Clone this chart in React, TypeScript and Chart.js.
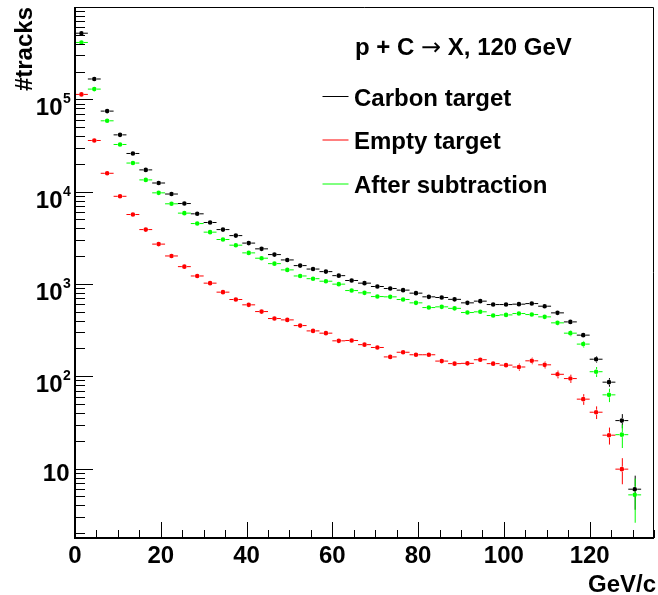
import React, { useEffect, useRef } from "react";
import { Chart, registerables } from "chart.js";

Chart.register(...registerables);

// ---- data ----
const binCenters = [
  1.5, 4.5, 7.5, 10.5, 13.5, 16.5, 19.5, 22.5, 25.5, 28.5,
  31.5, 34.5, 37.5, 40.5, 43.5, 46.5, 49.5, 52.5, 55.5, 58.5,
  61.5, 64.5, 67.5, 70.5, 73.5, 76.5, 79.5, 82.5, 85.5, 88.5,
  91.5, 94.5, 97.5, 100.5, 103.5, 106.5, 109.5, 112.5, 115.5, 118.5,
  121.5, 124.5, 127.5, 130.5,
];
const binHalfWidth = 1.5;

const carbonTarget = [
  520000, 166000, 74500, 41200, 25900, 17200, 12400, 9420, 7430, 5750,
  4630, 3880, 3340, 2770, 2400, 2080, 1820, 1580, 1450, 1360,
  1230, 1090, 1020, 938, 892, 857, 795, 725, 713, 681,
  624, 651, 598, 598, 604, 613, 574, 486, 388, 279,
  153, 86.3, 33.1, 5.98,
];
const emptyTarget = [
  113000, 35800, 15800, 8900, 5650, 3880, 2700, 2010, 1540, 1220,
  1020, 815, 678, 594, 502, 422, 408, 354, 310, 293,
  242, 244, 220, 205, 162, 182, 171, 171, 146, 137,
  138, 151, 137, 132, 126, 147, 133, 105, 94.4, 56.5,
  40.8, 23.0, 9.86, null,
];
const afterSubtraction = [
  413000, 129000, 58500, 32400, 20400, 13400, 9700, 7380, 5850, 4510,
  3640, 3030, 2630, 2170, 1900, 1660, 1420, 1220, 1140, 1070,
  995, 848, 801, 730, 725, 678, 624, 555, 565, 544,
  490, 499, 455, 462, 478, 466, 440, 379, 293, 223,
  112, 62.9, 23.3, 5.19,
];

// vertical error bars, visible only in the tail (bins from index errStart on)
const errStart = 34;
const carbonErr = [24.6, 24.8, 24.0, 22.0, 19.7, 16.7, 12.4, 9.3, 5.8, 2.4];
const emptyErr = [11.2, 12.1, 11.5, 10.2, 9.7, 7.5, 6.4, 4.8, 3.1, 0];
const afterErr = [27.0, 27.6, 26.6, 24.3, 22.0, 18.3, 13.9, 10.4, 6.6, 2.6];

const seriesLabels = ["Carbon target", "Empty target", "After subtraction"];
const seriesColors = ["#000000", "#ff0000", "#00ff00"];

const titleParts = ["p + C ", "\u2192", " X, 120 GeV"];
const xTitle = "GeV/c";
const yTitle = "#tracks";

const xMajorTicks = [0, 20, 40, 60, 80, 100, 120];
const xMinorStep = 5;
const yDecadeTicks = [10, 100, 1000, 10000, 100000];
const yDecadeExponents = [1, 2, 3, 4, 5];

const FONT = "'Liberation Sans', Arial, Helvetica, sans-serif";

export default function App() {
  const canvasRef = useRef<HTMLCanvasElement | null>(null);

  useEffect(() => {
    const canvas = canvasRef.current;
    if (!canvas) return;
    const errs = [carbonErr, emptyErr, afterErr];

    const rootStyle = {
      id: "rootStyle",
      beforeDraw(chart: any) {
        const ctx = chart.ctx;
        ctx.save();
        ctx.fillStyle = "#ffffff";
        ctx.fillRect(0, 0, chart.width, chart.height);
        ctx.restore();
      },
      beforeDatasetsDraw(chart: any) {
        const ctx = chart.ctx;
        const xs = chart.scales.x;
        const ys = chart.scales.y;
        const area = chart.chartArea;
        ctx.save();
        ctx.beginPath();
        ctx.rect(area.left, area.top, area.right - area.left, area.bottom - area.top);
        ctx.clip();
        const r = 2.5;
        chart.data.datasets.forEach((ds: any, di: number) => {
          ctx.strokeStyle = seriesColors[di];
          ctx.lineWidth = 1;
          ds.data.forEach((p: any, i: number) => {
            if (p.y == null) return;
            const px = xs.getPixelForValue(p.x);
            const py = ys.getPixelForValue(p.y);
            const xl = xs.getPixelForValue(p.x - binHalfWidth);
            const xr = xs.getPixelForValue(p.x + binHalfWidth);
            ctx.beginPath();
            ctx.moveTo(xl, py);
            ctx.lineTo(px - r, py);
            ctx.moveTo(px + r, py);
            ctx.lineTo(xr, py);
            ctx.stroke();
            const k = i - errStart;
            if (k >= 0 && k < errs[di].length && errs[di][k] > 0) {
              const e = errs[di][k];
              const yu = ys.getPixelForValue(p.y + e);
              const lo = p.y - e > 0.01 ? p.y - e : 0.01;
              const yl = ys.getPixelForValue(lo);
              ctx.beginPath();
              if (yu < py - r) {
                ctx.moveTo(px + 0.5, py - r);
                ctx.lineTo(px + 0.5, yu);
              }
              if (yl > py + r) {
                ctx.moveTo(px + 0.5, py + r);
                ctx.lineTo(px + 0.5, yl);
              }
              ctx.stroke();
            }
          });
        });
        ctx.restore();
      },
      afterDraw(chart: any) {
        const ctx = chart.ctx;
        const xs = chart.scales.x;
        const ys = chart.scales.y;
        const a = chart.chartArea;
        ctx.save();

        // frame
        ctx.strokeStyle = "#000";
        ctx.lineWidth = 1;
        ctx.beginPath();
        ctx.moveTo(a.left, a.top + 0.5);
        ctx.lineTo(a.right - 0.5, a.top + 0.5);
        ctx.lineTo(a.right - 0.5, a.bottom);
        ctx.stroke();
        ctx.lineWidth = 2;
        ctx.beginPath();
        ctx.moveTo(a.left, a.top);
        ctx.lineTo(a.left, a.bottom);
        ctx.lineTo(a.right, a.bottom);
        ctx.stroke();

        // y ticks (log)
        ctx.lineWidth = 1;
        ctx.beginPath();
        for (let d = 0; d <= 5; d++) {
          const base = Math.pow(10, d);
          for (let m = 1; m <= 9; m++) {
            const v = m * base;
            if (v < ys.min || v > ys.max) continue;
            const py = Math.round(ys.getPixelForValue(v)) + 0.5;
            const len = m === 1 ? 18 : 10;
            ctx.moveTo(a.left, py);
            ctx.lineTo(a.left + len, py);
          }
        }
        // x ticks
        for (let v = 0; v <= xs.max; v += xMinorStep) {
          const px = Math.round(xs.getPixelForValue(v)) + 0.5;
          const len = xMajorTicks.indexOf(v) >= 0 ? 16 : 8;
          ctx.moveTo(px, a.bottom);
          ctx.lineTo(px, a.bottom - len);
        }
        ctx.stroke();

        ctx.fillStyle = "#000";
        // x labels
        ctx.font = `bold 24px ${FONT}`;
        ctx.textAlign = "center";
        ctx.textBaseline = "alphabetic";
        xMajorTicks.forEach((v) => {
          ctx.fillText(String(v), xs.getPixelForValue(v), a.bottom + 25);
        });
        // y labels
        yDecadeTicks.forEach((v, i) => {
          const py = ys.getPixelForValue(v);
          const ex = yDecadeExponents[i];
          if (ex === 1) {
            ctx.font = `bold 24px ${FONT}`;
            ctx.textAlign = "right";
            ctx.fillText("10", a.left - 5.5, py + 12);
          } else {
            ctx.font = `bold 24px ${FONT}`;
            ctx.textAlign = "right";
            ctx.fillText("10", a.left - 12.5, py + 16);
            ctx.font = `bold 14px ${FONT}`;
            ctx.textAlign = "left";
            ctx.fillText(String(ex), a.left - 12, py + 4);
          }
        });

        // axis titles
        ctx.font = `bold 24px ${FONT}`;
        ctx.textAlign = "right";
        ctx.fillText(xTitle, 656, 592);
        ctx.save();
        ctx.translate(31.5, 7);
        ctx.rotate(-Math.PI / 2);
        ctx.textAlign = "right";
        ctx.fillText(yTitle, 0, 0);
        ctx.restore();

        // title (arrow in a lighter, wider font like ROOT's Symbol)
        ctx.textAlign = "left";
        let tx = 355;
        ctx.font = `bold 24px ${FONT}`;
        ctx.fillText(titleParts[0], tx, 55);
        tx += ctx.measureText(titleParts[0]).width;
        ctx.font = `24px 'DejaVu Sans', sans-serif`;
        ctx.fillText(titleParts[1], tx, 55);
        tx += ctx.measureText(titleParts[1]).width;
        ctx.font = `bold 24px ${FONT}`;
        ctx.fillText(titleParts[2], tx, 55);

        // legend
        const legendY = [96, 139.5, 183.5];
        chart.data.datasets.forEach((ds: any, i: number) => {
          ctx.strokeStyle = seriesColors[i];
          ctx.lineWidth = 1;
          ctx.beginPath();
          ctx.moveTo(322.5, legendY[i] + 0.5);
          ctx.lineTo(348.5, legendY[i] + 0.5);
          ctx.stroke();
          ctx.fillStyle = "#000";
          ctx.fillText(ds.label, 354, legendY[i] + 9.5);
        });
        ctx.restore();
      },
    };

    const mk = (vals: (number | null)[]) =>
      binCenters.map((x, i) => ({ x, y: vals[i] }));

    const chart = new Chart(canvas, {
      type: "scatter",
      data: {
        datasets: [carbonTarget, emptyTarget, afterSubtraction].map((vals, i) => ({
          label: seriesLabels[i],
          data: mk(vals),
          backgroundColor: seriesColors[i],
          borderColor: seriesColors[i],
          borderWidth: 0,
          pointRadius: 2.3,
          pointStyle: "circle",
          showLine: false,
        })),
      },
      options: {
        responsive: false,
        animation: false,
        devicePixelRatio: 1,
        layout: { padding: { left: 75, top: 7, right: 1, bottom: 57 } },
        plugins: {
          legend: { display: false },
          tooltip: { enabled: false },
          title: { display: false },
        },
        scales: {
          x: { type: "linear", min: 0, max: 135, display: false },
          y: { type: "logarithmic", min: 1.77, max: 1e6, display: false },
        },
      } as any,
      plugins: [rootStyle],
    });
    return () => chart.destroy();
  }, []);

  return (
    <div style={{ position: "fixed", left: 0, top: 0, width: 658, height: 595, background: "#fff" }}>
      <canvas ref={canvasRef} width={658} height={595} style={{ display: "block" }} />
    </div>
  );
}
